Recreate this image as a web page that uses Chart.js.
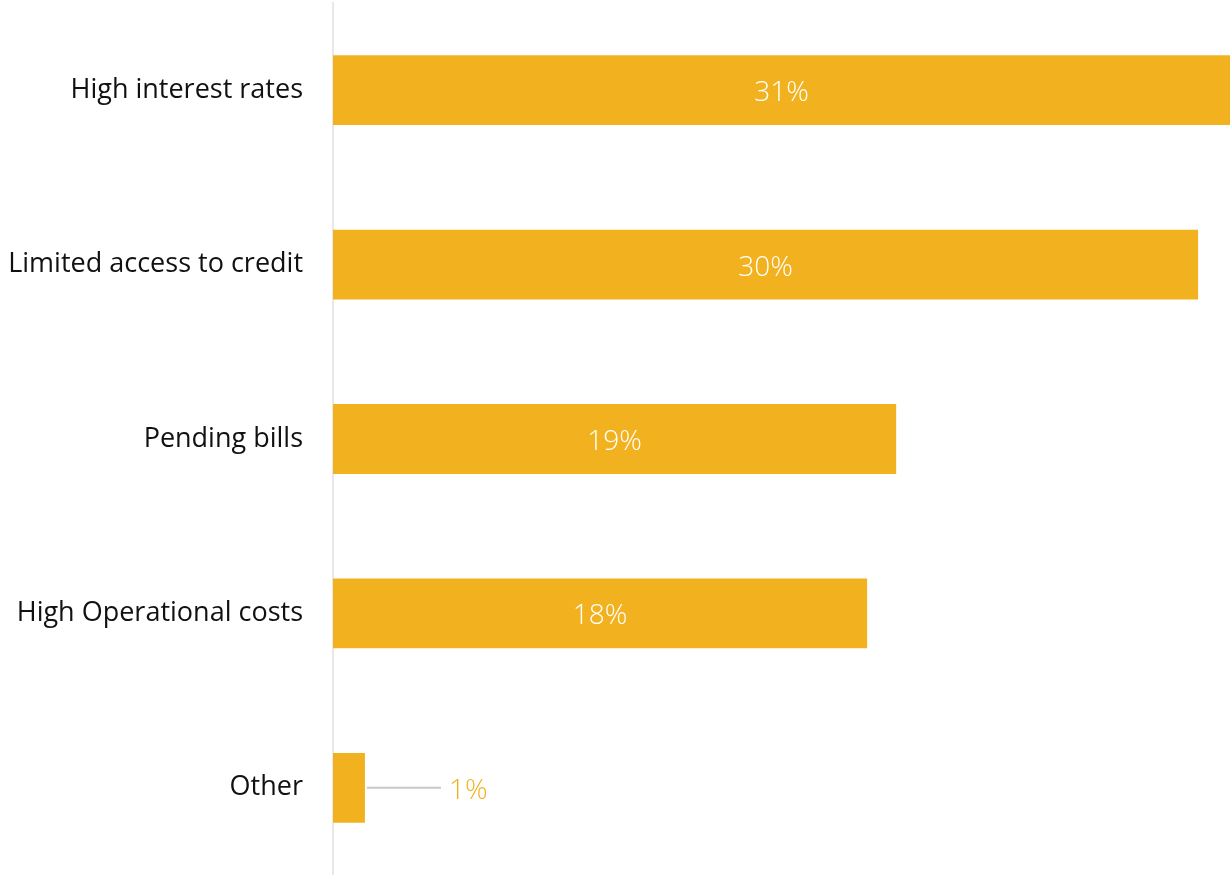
<!DOCTYPE html>
<html>
<head>
<meta charset="utf-8">
<script src="https://cdn.jsdelivr.net/npm/chart.js@4"></script>
<style>
  html, body { margin: 0; padding: 0; background: #fff; }
  #wrap { width: 1230px; height: 875px; }
</style>
</head>
<body>
<div id="wrap"><canvas id="barChart"></canvas></div>
<script>
const categories = ['High interest rates', 'Limited access to credit', 'Pending bills', 'High Operational costs', 'Other'];
const shares = [30.9, 29.8, 19.4, 18.4, 1.1];
const shareLabels = ['31%', '30%', '19%', '18%', '1%'];

const barColor = '#F2B21F';
const labelFont = '300 28px "Open Sans"';

// draws value labels: inside the bar when it fits, otherwise with a leader line
const valueLabels = {
    id: 'valueLabels',
    afterDatasetsDraw(chart) {
        const ctx = chart.ctx;
        const meta = chart.getDatasetMeta(0);
        ctx.save();
        ctx.font = labelFont;
        ctx.textBaseline = 'middle';
        meta.data.forEach((bar, i) => {
            const text = shareLabels[i];
            const w = ctx.measureText(text).width;
            const barLen = bar.x - bar.base;
            if (barLen > w + 20) {
                ctx.fillStyle = '#ffffff';
                ctx.textAlign = 'center';
                ctx.fillText(text, (bar.x + bar.base) / 2, bar.y + 3);
            } else {
                ctx.strokeStyle = '#c8c8c8';
                ctx.lineWidth = 2;
                ctx.beginPath();
                ctx.moveTo(bar.x + 2, bar.y);
                ctx.lineTo(bar.x + 76, bar.y);
                ctx.stroke();
                ctx.fillStyle = barColor;
                ctx.textAlign = 'left';
                ctx.fillText(text, bar.x + 84, bar.y + 3);
            }
        });
        ctx.restore();
    }
};

new Chart(document.getElementById('barChart'), {
    type: 'bar',
    data: {
        labels: categories,
        datasets: [{
            data: shares,
            backgroundColor: barColor,
            categoryPercentage: 1,
            barPercentage: 0.4
        }]
    },
    options: {
        indexAxis: 'y',
        responsive: true,
        maintainAspectRatio: false,
        animation: false,
        layout: { padding: { top: 3, right: 0, bottom: 0, left: 0 } },
        plugins: {
            legend: { display: false },
            tooltip: { enabled: false }
        },
        scales: {
            x: {
                display: false,
                min: 0,
                max: 30.9
            },
            y: {
                grid: { display: false },
                border: { display: true, color: '#e8e8e8', width: 2 },
                ticks: {
                    color: '#111111',
                    padding: 22,
                    font: { family: 'Open Sans', size: 27, weight: 400 }
                },
                afterFit(scale) {
                    scale.width = 333;
                    scale.paddingTop = 0;
                    scale.paddingBottom = 0;
                }
            }
        }
    },
    plugins: [valueLabels]
});
</script>
</body>
</html>
